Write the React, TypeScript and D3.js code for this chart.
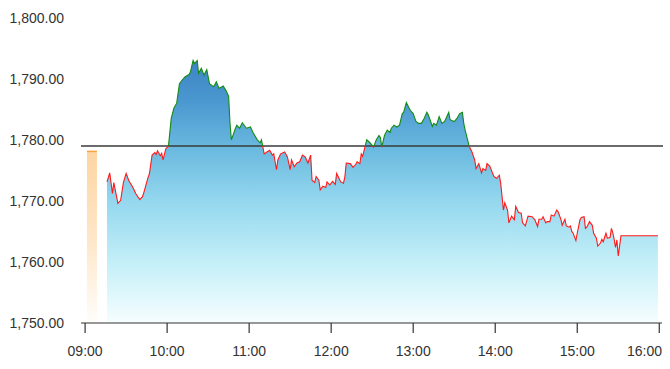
import React from "react";
import * as d3 from "d3";

const times = [
  "09:16","09:18","09:20","09:21","09:24","09:26","09:28","09:30","09:32","09:35",
  "09:37","09:40","09:42","09:43","09:46","09:47","09:49","09:51","09:52","09:53",
  "09:55","09:56","09:57","09:59","10:01","10:03","10:05","10:07","10:09","10:11",
  "10:13","10:16","10:17","10:19","10:20","10:22","10:23","10:25","10:27","10:29",
  "10:31","10:34","10:36","10:38","10:41","10:43","10:45","10:46","10:47","10:50",
  "10:51","10:53","10:55","10:58","11:01","11:03","11:06","11:08","11:09","11:11",
  "11:13","11:15","11:17","11:18","11:20","11:21","11:23","11:26","11:28","11:30",
  "11:31","11:33","11:35","11:37","11:39","11:41","11:43","11:45","11:46","11:48",
  "11:49","11:51","11:52","11:54","11:56","11:57","11:59","12:01","12:03","12:04",
  "12:07","12:09","12:10","12:11","12:14","12:16","12:18","12:19","12:21","12:22",
  "12:23","12:25","12:26","12:28","12:30","12:31","12:33","12:35","12:36","12:37",
  "12:39","12:41","12:43","12:44","12:46","12:48","12:50","12:52","12:53","12:55",
  "12:57","12:58","13:00","13:02","13:04","13:06","13:08","13:10","13:11","13:12",
  "13:14","13:15","13:17","13:19","13:21","13:23","13:26","13:27","13:30","13:32",
  "13:34","13:36","13:37","13:38","13:41","13:43","13:45","13:46","13:48","13:50",
  "13:51","13:53","13:54","13:56","13:59","14:01","14:03","14:04","14:06","14:07",
  "14:09","14:10","14:12","14:14","14:15","14:17","14:19","14:20","14:22","14:24",
  "14:27","14:29","14:31","14:32","14:34","14:35","14:37","14:38","14:40","14:41",
  "14:43","14:45","14:46","14:48","14:49","14:51","14:52","14:54","14:55","14:56",
  "14:57","14:59","15:00","15:02","15:03","15:05","15:06","15:07","15:09","15:11",
  "15:12","15:14","15:15","15:17","15:18","15:19","15:21","15:22","15:24","15:25",
  "15:26","15:27","15:28","15:29","15:30","15:32","15:59"
];

const prices = [
  1773.1,1774.6,1771.2,1773.0,1769.6,1770.1,1773.0,1774.5,1773.3,1772.2,
  1771.2,1770.2,1770.7,1771.4,1773.8,1774.4,1777.5,1777.9,1777.6,1778.2,
  1777.4,1777.8,1776.7,1778.5,1779.0,1783.5,1785.2,1786.0,1789.2,1789.8,
  1790.3,1790.7,1791.1,1793.0,1792.5,1793.0,1790.9,1791.7,1790.6,1791.5,
  1789.2,1788.7,1789.5,1788.4,1788.8,1788.1,1787.1,1782.7,1780.0,1781.9,
  1782.4,1781.9,1782.8,1781.9,1782.1,1781.1,1780.0,1779.5,1780.0,1777.7,
  1778.0,1778.3,1777.5,1777.7,1775.1,1776.7,1777.7,1778.0,1777.2,1775.1,
  1776.7,1775.6,1776.2,1776.4,1777.5,1777.2,1776.2,1777.5,1773.4,1773.0,
  1774.0,1773.4,1771.8,1772.4,1772.2,1773.1,1772.6,1773.2,1772.7,1774.5,
  1773.1,1772.9,1773.9,1776.2,1776.1,1775.5,1776.0,1776.4,1776.1,1777.7,
  1777.3,1779.1,1780.0,1779.6,1779.1,1778.8,1780.0,1780.7,1780.4,1778.8,
  1780.7,1781.6,1781.2,1781.9,1782.4,1782.1,1782.4,1784.3,1784.5,1786.1,
  1785.2,1784.8,1784.3,1783.0,1782.7,1782.7,1783.5,1784.5,1784.1,1783.5,
  1782.2,1782.7,1782.4,1783.8,1782.7,1783.0,1784.5,1783.3,1783.0,1783.5,
  1784.3,1784.5,1782.7,1781.6,1778.9,1778.0,1776.7,1775.3,1776.1,1774.6,
  1775.3,1775.0,1776.1,1775.7,1774.0,1773.7,1774.2,1772.9,1768.5,1769.7,
  1768.5,1766.4,1767.5,1766.9,1769.1,1768.1,1768.0,1766.4,1765.9,1767.5,
  1767.4,1766.9,1765.8,1767.0,1767.0,1767.4,1766.4,1766.6,1766.6,1767.7,
  1767.5,1768.5,1768.2,1767.0,1766.0,1767.0,1765.9,1765.7,1765.9,1765.0,
  1764.7,1763.5,1764.7,1766.9,1767.3,1767.4,1765.5,1765.7,1766.6,1766.0,
  1764.7,1763.9,1762.6,1763.1,1763.7,1763.3,1764.7,1763.9,1764.0,1765.5,
  1764.8,1763.7,1762.4,1763.6,1761.0,1764.3,1764.3
];

const baselinePrice = 1779.0;
const preOpenTime = "09:05";
const preOpenPrice = 1778.1;
const yTickValues = [1750, 1760, 1770, 1780, 1790, 1800];
const xTickLabels = ["09:00", "10:00", "11:00", "12:00", "13:00", "14:00", "15:00", "16:00"];

const W = 670;
const H = 369;

const toMin = (s: string) => {
  const [h, m] = s.split(":").map(Number);
  return h * 60 + m;
};

export default function App() {
  const x = d3.scaleLinear().domain([toMin("08:57"), toMin("16:02")]).range([81, 662]);
  const y = d3.scaleLinear().domain([1750, 1800]).range([323, 17.7]);
  const data = times.map((t, i) => ({ t: toMin(t), v: prices[i] }));

  const line = d3
    .line<{ t: number; v: number }>()
    .x((d) => x(d.t))
    .y((d) => y(d.v));
  const area = d3
    .area<{ t: number; v: number }>()
    .x((d) => x(d.t))
    .y0(y(1750))
    .y1((d) => y(d.v));

  const yb = y(baselinePrice);
  const fmt = d3.format(",.2f");
  const [x0, x1] = x.range();
  const barX = x(toMin(preOpenTime));
  const topY = y(d3.max(prices) as number);

  return (
    <svg
      width={W}
      height={H}
      style={{ position: "absolute", left: 0, top: 0, fontFamily: "'Liberation Sans', Arial, sans-serif" }}
    >
      <defs>
        <linearGradient id="areaGrad" gradientUnits="userSpaceOnUse" x1="0" y1={topY} x2="0" y2={y(1750)}>
          <stop offset="0" stopColor="#3d83c5" />
          <stop offset="0.15" stopColor="#4a97cf" />
          <stop offset="0.33" stopColor="#68b8df" />
          <stop offset="0.53" stopColor="#93d7ee" />
          <stop offset="0.77" stopColor="#c4eff8" />
          <stop offset="1" stopColor="#f6feff" />
        </linearGradient>
        <linearGradient id="barGrad" x1="0" y1="0" x2="0" y2="1">
          <stop offset="0" stopColor="#fdd5a2" />
          <stop offset="0.5" stopColor="#fee6c8" />
          <stop offset="1" stopColor="#fffdfa" />
        </linearGradient>
        <clipPath id="above">
          <rect x={0} y={0} width={W} height={yb} />
        </clipPath>
        <clipPath id="below">
          <rect x={0} y={yb} width={W} height={H - yb} />
        </clipPath>
      </defs>

      <path d={area(data) || ""} fill="url(#areaGrad)" />

      <rect
        x={barX - 5}
        y={y(preOpenPrice)}
        width={10}
        height={y(1750) - y(preOpenPrice)}
        fill="url(#barGrad)"
      />
      <line x1={barX - 5} x2={barX + 5} y1={y(preOpenPrice)} y2={y(preOpenPrice)} stroke="#f7a43c" strokeWidth={1.5} />

      <line x1={x0} x2={x1 + 1} y1={yb} y2={yb} stroke="#3a3a3a" strokeWidth={1.4} />

      <path d={line(data) || ""} fill="none" stroke="#138a13" strokeWidth={1.1} clipPath="url(#above)" />
      <path d={line(data) || ""} fill="none" stroke="#ff1a1a" strokeWidth={1.1} clipPath="url(#below)" />

      <line x1={x0} x2={x1} y1={y(1750)} y2={y(1750)} stroke="#333" strokeWidth={1.2} />
      {xTickLabels.map((lab, i) => {
        const px = x(toMin(lab));
        const last = i === xTickLabels.length - 1;
        return (
          <g key={lab}>
            <line x1={px} x2={px} y1={y(1750)} y2={y(1750) + 10} stroke="#333" strokeWidth={1.2} />
            <text
              x={last ? 662 : px}
              y={356}
              textAnchor={last ? "end" : "middle"}
              fontSize={14}
              fill="#333"
            >
              {lab}
            </text>
          </g>
        );
      })}

      {yTickValues.map((v) => (
        <text key={v} x={64} y={y(v)} dy="0.35em" textAnchor="end" fontSize={14} fill="#333">
          {fmt(v)}
        </text>
      ))}
    </svg>
  );
}
